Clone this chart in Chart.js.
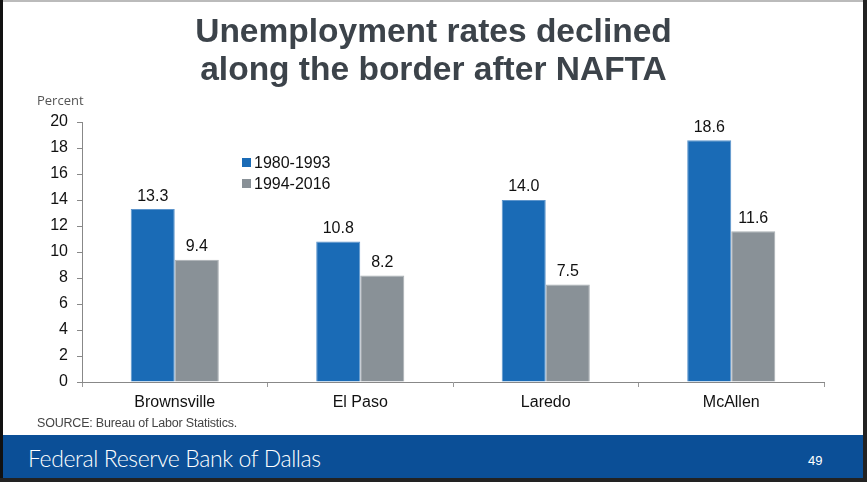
<!DOCTYPE html>
<html>
<head>
<meta charset="utf-8">
<script src="https://cdn.jsdelivr.net/npm/chart.js@4/dist/chart.umd.min.js"></script>
<style>
  html, body { margin: 0; padding: 0; background: #fff; }
  #slide { position: relative; width: 867px; height: 482px; overflow: hidden; background: #fff; font-family: "Liberation Sans", Arial, sans-serif; }
  #slide canvas { position: absolute; left: 0; top: 0; }
  .frame-left { position: absolute; left: 0; top: 0; width: 3px; height: 482px; background: #111; }
  .frame-right { position: absolute; left: 863px; top: 0; width: 4px; height: 482px; background: #222; }
  .frame-top { position: absolute; left: 0; top: 0; width: 867px; height: 2px; background: #bbb; }
  .frame-bottom { position: absolute; left: 0; top: 478px; width: 867px; height: 4px; background: #222; }
  #title { position: absolute; left: 0; width: 867px; top: 12px; text-align: center; font-weight: bold; font-size: 33.5px; line-height: 38px; color: #3c434a; }
  #ylabel { position: absolute; left: 37px; top: 91px; font-family: "Open Sans", sans-serif; font-size: 13px; color: #555; }
  #source { position: absolute; left: 37px; top: 416px; font-size: 12.5px; color: #444; letter-spacing: -0.2px; }
  #footer { position: absolute; left: 3px; top: 435px; width: 860px; height: 43px; background: #0b4f97; }
  #footer .bank { position: absolute; left: 25px; top: 9px; font-family: Lato, sans-serif; font-weight: 300; font-size: 23px; color: #fff; letter-spacing: -0.4px; }
  #footer .page { position: absolute; left: 805px; top: 18px; font-size: 13px; color: #fff; }
  #legend { position: absolute; left: 242px; top: 152px; font-size: 16px; color: #111; }
  #legend div { height: 21px; line-height: 21px; }
  #legend span { display: inline-block; width: 9px; height: 9px; margin-right: 3px; vertical-align: 1px; }
</style>
</head>
<body>
<div id="slide">
  <canvas id="chart" width="867" height="482"></canvas>
  <div id="title">Unemployment rates declined<br>along the border after NAFTA</div>
  <div id="ylabel">Percent</div>
  <div id="legend"></div>
  <div id="source">SOURCE: Bureau of Labor Statistics.</div>
  <div id="footer"><div class="bank">Federal Reserve Bank of Dallas</div><div class="page">49</div></div>
  <div class="frame-top"></div>
  <div class="frame-left"></div>
  <div class="frame-right"></div>
  <div class="frame-bottom"></div>
</div>
<script>
// chart data
const cities = ['Brownsville', 'El Paso', 'Laredo', 'McAllen'];
const seriesNames = ['1980-1993', '1994-2016'];
const before = [13.3, 10.8, 14.0, 18.6];
const after = [9.4, 8.2, 7.5, 11.6];
const yTicks = [0, 2, 4, 6, 8, 10, 12, 14, 16, 18, 20];
const colors = ['#1a6bb6', '#899197'];
const edgeColors = ['#5d95cc', '#a9afb3'];

// legend built from the series
document.getElementById('legend').innerHTML = seriesNames.map((name, i) =>
    `<div><span style="background:${colors[i]}"></span>${name}</div>`).join('');

// draws value labels above each bar
const valueLabels = {
    id: 'valueLabels',
    afterDatasetsDraw(chart) {
        const ctx = chart.ctx;
        ctx.save();
        ctx.font = '16px "Liberation Sans", Arial, sans-serif';
        ctx.fillStyle = '#111';
        ctx.textAlign = 'center';
        ctx.textBaseline = 'bottom';
        chart.data.datasets.forEach((ds, i) => {
            chart.getDatasetMeta(i).data.forEach((bar, j) => {
                ctx.fillText(ds.data[j].toFixed(1), bar.x, bar.y - 5);
            });
        });
        ctx.restore();
    }
};

const tickFont = { family: '"Liberation Sans", Arial, sans-serif', size: 16 };

new Chart(document.getElementById('chart'), {
    type: 'bar',
    data: {
        labels: cities,
        datasets: [
            { label: seriesNames[0], data: before, backgroundColor: colors[0], borderColor: edgeColors[0], borderWidth: 1 },
            { label: seriesNames[1], data: after, backgroundColor: colors[1], borderColor: edgeColors[1], borderWidth: 1 },
        ],
    },
    options: {
        responsive: false,
        animation: false,
        categoryPercentage: 0.475,
        barPercentage: 1.0,
        layout: { padding: { top: 122, left: 0, right: 43, bottom: 70 } },
        scales: {
            x: {
                grid: { drawOnChartArea: false, tickLength: 5, color: '#999' },
                border: { color: '#888' },
                ticks: { color: '#111', font: tickFont, padding: 6 },
                afterFit: (s) => { s.height = 30; },
            },
            y: {
                min: 0,
                max: 20,
                afterBuildTicks: (s) => { s.ticks = yTicks.map(v => ({ value: v })); },
                grid: { drawOnChartArea: false, tickLength: 5, color: '#888' },
                border: { color: '#888' },
                ticks: { color: '#111', font: tickFont, padding: 9 },
                afterFit: (s) => { s.width = 82; },
            },
        },
        plugins: {
            legend: { display: false },
            tooltip: { enabled: false },
        },
    },
    plugins: [valueLabels],
});
</script>
</body>
</html>
